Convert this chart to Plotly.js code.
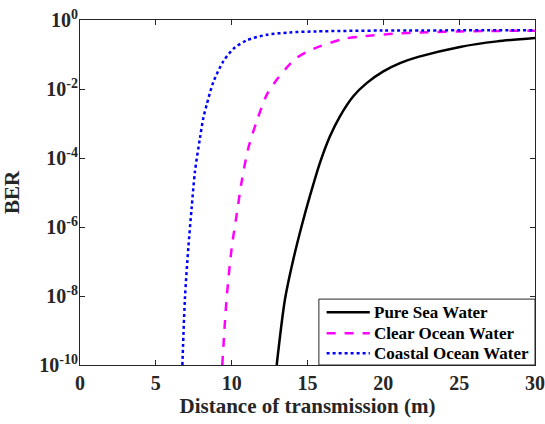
<!DOCTYPE html>
<html>
<head>
<meta charset="utf-8">
<script src="https://cdn.plot.ly/plotly-3.0.1.min.js"></script>
<style>html,body{margin:0;padding:0;background:#fff;}#chart{width:545px;height:424px;}</style>
</head>
<body>
<div id="chart"></div>
<script>
// Series names
const seriesNames = ["Pure Sea Water", "Clear Ocean Water", "Coastal Ocean Water"];

// Pure Sea Water
const pureX = [12.97, 13.51, 14.06, 14.61, 15.16, 15.82, 16.48, 17.14, 18.02, 18.9, 20.0, 21.1, 22.3, 25.05, 27.5, 30];
const pureBER = [1e-10, 7.76e-9, 1.12e-7, 1.05e-6, 7.94e-6, 7.24e-5, 4.27e-4, 1.62e-3, 6.17e-3, 0.0148, 0.0324, 0.0562, 0.0851, 0.166, 0.240, 0.302];

// Clear Ocean Water
const clearX = [9.38, 9.67, 10.0, 10.33, 10.66, 11.1, 11.65, 12.31, 12.97, 13.63, 14.28, 15.38, 17.36, 18.5, 20.66, 22.5, 25.05, 30];
const clearBER = [1e-10, 8.71e-9, 2.45e-7, 2.29e-6, 2.09e-5, 1.95e-4, 1.15e-3, 6.76e-3, 0.0186, 0.0417, 0.0794, 0.145, 0.282, 0.331, 0.398, 0.437, 0.468, 0.490];

// Coastal Ocean Water
const coastalX = [6.75, 6.92, 7.14, 7.36, 7.58, 7.91, 8.13, 8.35, 8.79, 9.45, 10.11, 10.99, 12.31, 13.84, 15.6, 20, 30];
const coastalBER = [1e-10, 8.71e-9, 2.45e-7, 3.55e-6, 4.07e-5, 3.80e-4, 1.45e-3, 3.47e-3, 0.0158, 0.0631, 0.145, 0.257, 0.372, 0.437, 0.468, 0.495, 0.501];

// Axis ticks
const xTickVals = [0, 5, 10, 15, 20, 25, 30];
const yTickVals = [1e0, 1e-2, 1e-4, 1e-6, 1e-8, 1e-10];
const yTickText = ["10<sup>0</sup>", "10<sup>-2</sup>", "10<sup>-4</sup>", "10<sup>-6</sup>", "10<sup>-8</sup>", "10<sup>-10</sup>"];

const FONT = "'Liberation Serif', 'Times New Roman', serif";
const AXC = "#262626";

const lineStyles = [
  {color: "#000000", width: 2.5, dash: "solid"},
  {color: "#ff00ff", width: 2.5, dash: "dash"},
  {color: "#0000ff", width: 2.5, dash: "dot"}
];
const xs = [pureX, clearX, coastalX];
const ys = [pureBER, clearBER, coastalBER];

const traces = seriesNames.map((n, i) => ({
  x: xs[i], y: ys[i], name: n, mode: "lines", showlegend: false,
  line: Object.assign({shape: "spline", smoothing: 0.8}, lineStyles[i])
}));

// Legend box (drawn in paper coordinates, lower-right corner of the axes)
const LEG = {x0: 0.525, x1: 1.0, y0: 0.0, y1: 0.191, rowY: [0.1528, 0.0919, 0.0339],
             lineX0: 0.542, lineX1: 0.637, textX: 0.641};
const shapes = [{type: "rect", xref: "paper", yref: "paper", x0: LEG.x0, x1: LEG.x1, y0: LEG.y0, y1: LEG.y1,
                 line: {color: AXC, width: 1}, fillcolor: "#ffffff", layer: "above"}];
const annotations = [];
seriesNames.forEach((n, i) => {
  shapes.push({type: "line", xref: "paper", yref: "paper", x0: LEG.lineX0, x1: LEG.lineX1,
               y0: LEG.rowY[i], y1: LEG.rowY[i], line: lineStyles[i], layer: "above"});
  annotations.push({xref: "paper", yref: "paper", x: LEG.textX, y: LEG.rowY[i], xanchor: "left", yanchor: "middle",
                    text: n, showarrow: false,
                    font: {family: FONT, size: 17, color: "#000000", weight: "bold"}});
});

const layout = {
  width: 545, height: 424,
  margin: {l: 80, r: 10, t: 20, b: 59},
  paper_bgcolor: "#ffffff", plot_bgcolor: "#ffffff",
  font: {family: FONT, size: 19, color: AXC, weight: "bold"},
  showlegend: false,
  shapes: shapes,
  annotations: annotations,
  xaxis: {
    range: [0, 30], tickvals: xTickVals, ticks: "inside", ticklen: 5, tickwidth: 1,
    tickcolor: AXC, showline: true, linecolor: AXC, linewidth: 1, mirror: "ticks",
    showgrid: false, zeroline: false,
    tickfont: {family: FONT, size: 20, color: AXC, weight: "bold"},
    title: {text: "Distance of transmission (m)", standoff: 4,
            font: {family: FONT, size: 21, color: AXC, weight: "bold"}}
  },
  yaxis: {
    type: "log", range: [-10, 0], tickvals: yTickVals, ticktext: yTickText,
    ticks: "inside", ticklen: 5, tickwidth: 1, tickcolor: AXC,
    showline: true, linecolor: AXC, linewidth: 1, mirror: "ticks",
    showgrid: false, zeroline: false, ticklabelstandoff: -3,
    tickfont: {family: FONT, size: 20, color: AXC, weight: "bold"},
    title: {text: "BER", standoff: 13,
            font: {family: FONT, size: 21, color: AXC, weight: "bold"}}
  }
};

Plotly.newPlot("chart", traces, layout, {displayModeBar: false, staticPlot: true});
</script>
</body>
</html>
